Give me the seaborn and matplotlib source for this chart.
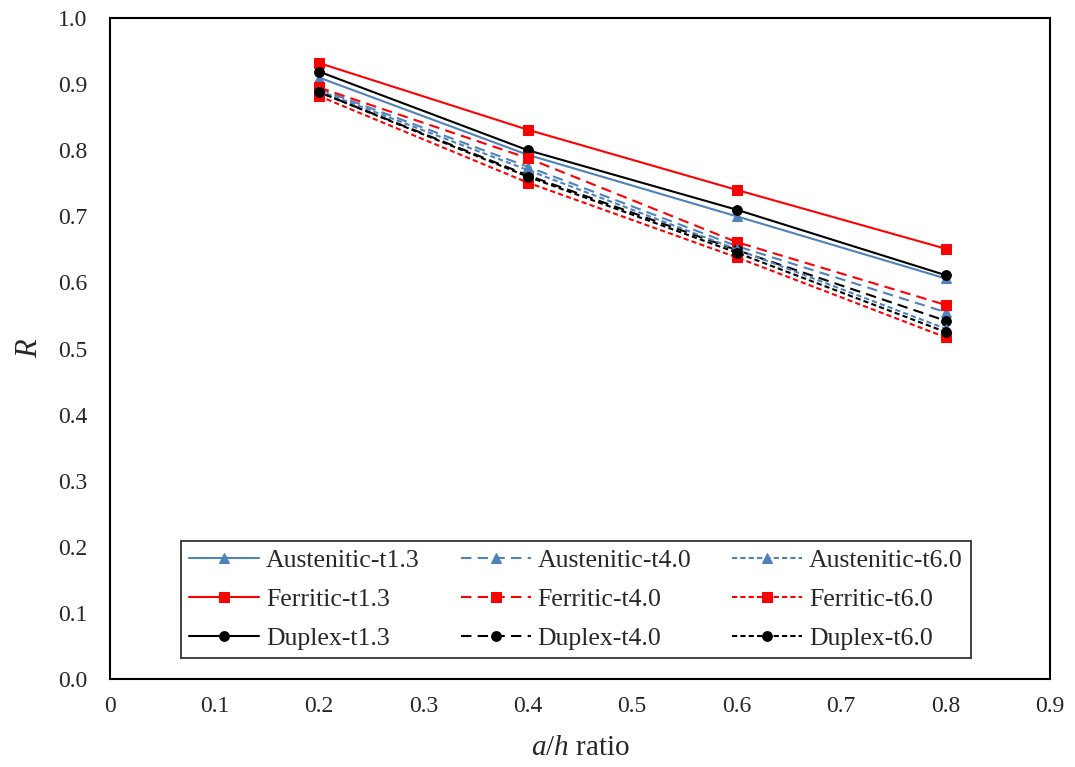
import matplotlib
matplotlib.use("Agg")
import matplotlib.pyplot as plt
import seaborn as sns
import pandas as pd

ah_ratio = [0.2, 0.4, 0.6, 0.8]

austenitic_t13 = [0.910, 0.793, 0.700, 0.606]
austenitic_t40 = [0.893, 0.775, 0.655, 0.555]
austenitic_t60 = [0.890, 0.770, 0.650, 0.530]
ferritic_t13 = [0.932, 0.831, 0.740, 0.651]
ferritic_t40 = [0.895, 0.788, 0.661, 0.566]
ferritic_t60 = [0.882, 0.751, 0.638, 0.517]
duplex_t13 = [0.919, 0.800, 0.710, 0.611]
duplex_t40 = [0.888, 0.762, 0.649, 0.542]
duplex_t60 = [0.888, 0.760, 0.645, 0.525]

x_ticks = [0, 0.1, 0.2, 0.3, 0.4, 0.5, 0.6, 0.7, 0.8, 0.9]
x_ticklabels = ["0", "0.1", "0.2", "0.3", "0.4", "0.5", "0.6", "0.7", "0.8", "0.9"]
y_ticks = [0.0, 0.1, 0.2, 0.3, 0.4, 0.5, 0.6, 0.7, 0.8, 0.9, 1.0]

sns.set_style("white")
plt.rcParams["font.family"] = ["Liberation Serif", "DejaVu Serif"]
plt.rcParams["mathtext.fontset"] = "custom"
plt.rcParams["mathtext.rm"] = "Liberation Serif"
plt.rcParams["mathtext.it"] = "Liberation Serif:italic"

blue = "#4F81BD"
red = "#FF0000"
black = "#000000"
dash_long = (5, 3)
dash_short = (2.5, 1.5)

series = [
    ("Austenitic-t1.3", austenitic_t13, blue, "^", None),
    ("Ferritic-t1.3", ferritic_t13, red, "s", None),
    ("Duplex-t1.3", duplex_t13, black, "o", None),
    ("Austenitic-t4.0", austenitic_t40, blue, "^", dash_long),
    ("Ferritic-t4.0", ferritic_t40, red, "s", dash_long),
    ("Duplex-t4.0", duplex_t40, black, "o", dash_long),
    ("Austenitic-t6.0", austenitic_t60, blue, "^", dash_short),
    ("Ferritic-t6.0", ferritic_t60, red, "s", dash_short),
    ("Duplex-t6.0", duplex_t60, black, "o", dash_short),
]

fig = plt.figure(figsize=(10.75, 7.67), dpi=100)
ax = fig.add_axes([0.1023, 0.1147, 0.8745, 0.8618])

for name, vals, color, marker, dash in series:
    df = pd.DataFrame({"x": ah_ratio, "y": vals})
    sns.lineplot(data=df, x="x", y="y", ax=ax, color=color, marker=marker,
                 markersize=7 if marker != "^" else 6.5, markeredgecolor=color,
                 linewidth=1.5, label=name)
    line = ax.get_lines()[-1]
    if dash is not None:
        line.set_dashes(dash)

ax.set_xlim(0, 0.9)
ax.set_ylim(0, 1.0)
ax.set_xticks(x_ticks)
ax.set_xticklabels(x_ticklabels)
ax.set_yticks(y_ticks)
ax.set_yticklabels([f"{v:.1f}" for v in y_ticks])
ax.tick_params(axis="both", length=0, labelsize=17)
ax.tick_params(axis="y", pad=16)
ax.tick_params(axis="x", pad=12)
for s in ax.spines.values():
    s.set_visible(True)
    s.set_color("black")
    s.set_linewidth(1.5)

ax.set_xlabel(r"$\it{a/h}$ ratio", fontsize=21, labelpad=13)
ax.set_ylabel("R", fontsize=22, style="italic", labelpad=10)

handles, labels = ax.get_legend_handles_labels()
leg = ax.legend(handles, labels, ncol=3, loc="lower center", bbox_to_anchor=(0.4957, 0.032),
                borderaxespad=0, frameon=True, fancybox=False, edgecolor="black", fontsize=18.5,
                handlelength=2.72, columnspacing=1.6, labelspacing=0.63, borderpad=0.3,
                handletextpad=0.27)
leg.get_frame().set_linewidth(1.3)

fig.savefig("out.png", dpi=100)
